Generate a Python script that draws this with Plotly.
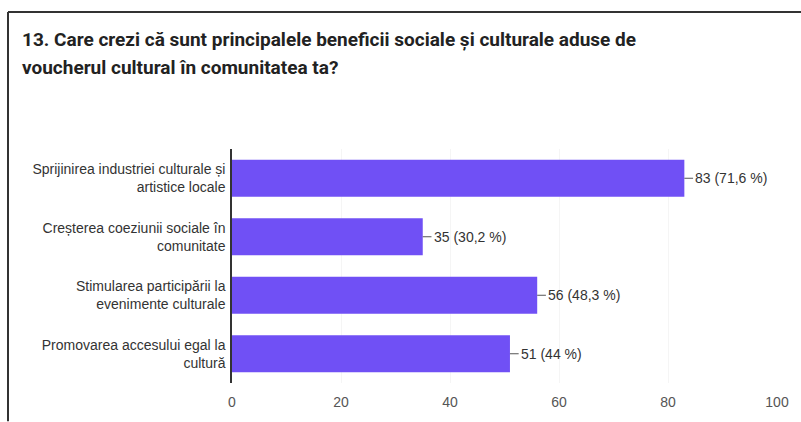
import plotly.graph_objects as go

categories = [
    "Sprijinirea industriei culturale și<br>artistice locale",
    "Creșterea coeziunii sociale în<br>comunitate",
    "Stimularea participării la<br>evenimente culturale",
    "Promovarea accesului egal la<br>cultură",
]
counts = [83, 35, 56, 51]
percents = ["71,6 %", "30,2 %", "48,3 %", "44 %"]
x_ticks = [0, 20, 40, 60, 80, 100]

title_lines = [
    "13. Care crezi că sunt principalele beneficii sociale și culturale aduse de",
    "voucherul cultural în comunitatea ta?",
]

BAR = "#7050F5"
TXT = "#333333"

W, H = 801, 422
L, R, T, B = 232, 24, 149, 34
PW, PH = W - L - R, H - T - B


def px_x(x):
    return (x - L) / PW


def px_y(y):
    return (H - B - y) / PH


fig = go.Figure()
fig.add_trace(go.Bar(
    y=categories, x=counts, orientation="h",
    marker=dict(color=BAR, line=dict(width=0)),
    width=0.63, hoverinfo="skip",
))

for c, v, p in zip(categories, counts, percents):
    fig.add_shape(type="line", xref="x", yref="y", x0=v, x1=v + 1.6, y0=c, y1=c,
                  line=dict(color="#555555", width=1))
    fig.add_annotation(x=v, y=c, xref="x", yref="y", text=f"{v} ({p})",
                       showarrow=False, xanchor="left", xshift=9,
                       font=dict(family="Liberation Sans, Arial", size=14, color=TXT))

for line, ypx in zip(title_lines, [37, 66]):
    fig.add_annotation(x=px_x(20), y=px_y(ypx), xref="paper", yref="paper", text=line,
                       showarrow=False, xanchor="left", yanchor="middle",
                       font=dict(family="Roboto", size=19, color="#222222", weight="bold"))

# card frame (top and left edges)
fig.add_shape(type="line", xref="paper", yref="paper",
              x0=px_x(8), x1=px_x(W + 5), y0=px_y(9), y1=px_y(9),
              line=dict(color="#333333", width=2))
fig.add_shape(type="line", xref="paper", yref="paper",
              x0=px_x(8), x1=px_x(8), y0=px_y(9), y1=px_y(H + 5),
              line=dict(color="#333333", width=2))

fig.update_layout(
    width=W, height=H,
    margin=dict(l=L, r=R, t=T, b=B),
    paper_bgcolor="white", plot_bgcolor="white",
    showlegend=False,
    xaxis=dict(range=[0, 100], tickvals=x_ticks, showgrid=True, gridcolor="#f5f5f5",
               zeroline=False, showline=False, ticks="", ticklabelstandoff=9,
               tickfont=dict(family="Liberation Sans, Arial", size=14, color="#555555")),
    yaxis=dict(autorange="reversed", showline=True, linecolor="#333333", linewidth=1.5,
               ticks="", showgrid=False, ticklabelstandoff=2,
               tickfont=dict(family="Liberation Sans, Arial", size=14, color=TXT)),
)

fig.write_html("out.html", config={"displayModeBar": False},
               post_script="document.body.style.margin='0';document.body.style.overflow='hidden';")
